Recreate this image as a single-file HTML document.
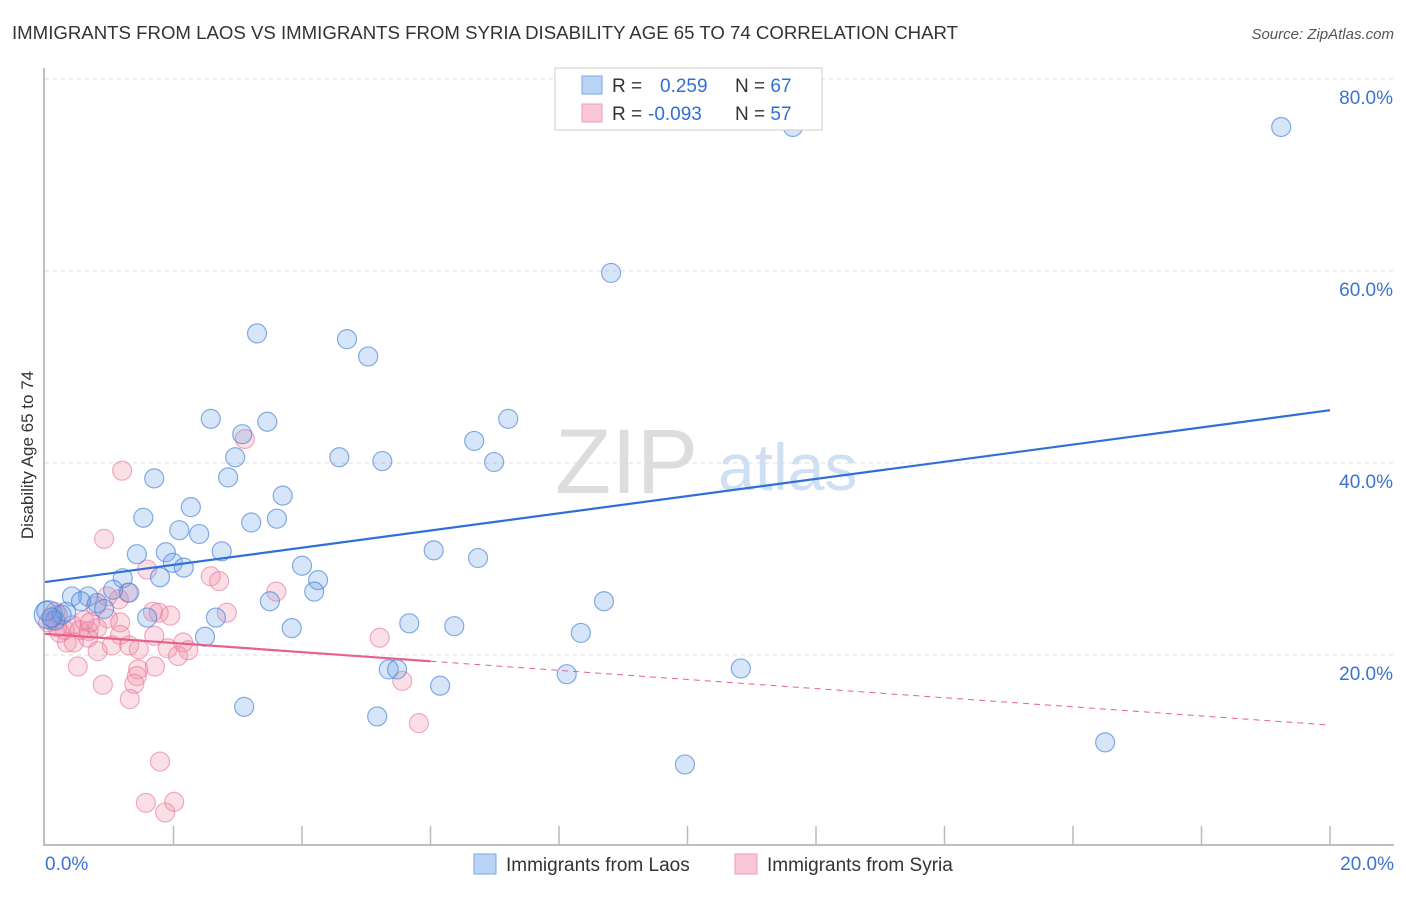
<!DOCTYPE html>
<html><head><meta charset="utf-8"><style>
body{margin:0;background:#fff;font-family:"Liberation Sans",sans-serif}
svg text{font-family:"Liberation Sans",sans-serif}
</style></head><body>
<svg id="c" width="1406" height="892">
<text x="12" y="39" font-size="18.6" fill="#333" textLength="946" lengthAdjust="spacingAndGlyphs">IMMIGRANTS FROM LAOS VS IMMIGRANTS FROM SYRIA DISABILITY AGE 65 TO 74 CORRELATION CHART</text>
<text x="1394" y="39" font-size="15" fill="#555" font-style="italic" text-anchor="end">Source: ZipAtlas.com</text>
<text transform="translate(33,455) rotate(-90)" font-size="17" fill="#333" text-anchor="middle">Disability Age 65 to 74</text>
<g><text x="555" y="493" font-size="92" fill="#ddd" font-family="Liberation Serif">ZIP</text><text x="718" y="490" font-size="66" fill="#cfe0f4">atlas</text></g>
<g id="grid"></g><g id="marks"></g>
<g>
<rect x="555" y="68" width="267" height="62" fill="#fff" stroke="#ccc"/>
<rect x="582" y="76" width="20" height="18" fill="#b9d3f5" stroke="#7aa6e6"/>
<rect x="582" y="104" width="20" height="18" fill="#f9c7d6" stroke="#f09ab5"/>
<text x="612" y="92" font-size="19" fill="#333">R = <tspan fill="#2f6fd6" x="660">0.259</tspan><tspan fill="#333" x="735">N = </tspan><tspan fill="#2f6fd6">67</tspan></text>
<text x="612" y="120" font-size="19" fill="#333">R = <tspan fill="#2f6fd6" x="648">-0.093</tspan><tspan fill="#333" x="735">N = </tspan><tspan fill="#2f6fd6">57</tspan></text>
</g>
<g>
<rect x="474" y="854" width="22" height="20" fill="#b9d3f5" stroke="#7aa6e6"/>
<text x="506" y="871" font-size="19" fill="#333">Immigrants from Laos</text>
<rect x="735" y="854" width="22" height="20" fill="#f9c7d6" stroke="#f09ab5"/>
<text x="767" y="871" font-size="19" fill="#333">Immigrants from Syria</text>
</g>
</svg>
<script>
const laosX=[11.64,19.24,8.81,3.30,4.70,5.03,2.58,3.46,7.21,6.68,3.07,2.96,4.58,5.25,6.99,2.85,1.70,3.70,2.27,1.53,3.21,3.61,2.09,2.40,2.75,1.43,6.05,1.88,6.74,1.99,2.16,4.00,1.79,1.21,4.25,4.19,1.31,1.06,0.67,0.42,0.81,0.56,0.92,3.50,8.70,2.66,1.59,5.67,6.37,3.84,8.34,2.49,10.83,5.35,5.48,6.15,8.12,3.10,5.17,16.50,9.96,0.05,0.16,0.26,0.02,0.33,0.10];
const laosY=[75.0,75.0,59.8,53.5,52.9,51.1,44.6,44.3,44.6,42.3,43.0,40.6,40.6,40.2,40.1,38.5,38.4,36.6,35.4,34.3,33.8,34.2,33.0,32.6,30.8,30.5,30.9,30.7,30.1,29.6,29.1,29.3,28.1,28.0,27.8,26.6,26.5,26.8,26.1,26.1,25.4,25.6,24.8,25.6,25.6,23.9,23.9,23.3,23.0,22.8,22.3,21.9,18.6,18.5,18.5,16.8,18.0,14.6,13.6,10.9,8.6,24.2,23.6,24.2,24.6,24.5,23.9];
const syriaX=[1.20,3.11,0.92,1.59,2.58,2.71,3.60,1.29,1.15,0.79,1.68,1.77,1.95,2.83,0.98,1.17,0.11,0.19,0.31,0.42,0.54,0.68,0.81,0.67,0.34,0.45,1.17,1.04,1.31,1.70,0.82,1.46,1.91,2.15,2.23,2.07,0.51,1.71,1.45,1.43,1.39,0.90,5.21,5.56,1.32,5.82,1.79,1.57,2.01,1.87,0.20,0.05,0.23,0.61,0.97,0.70,0.16];
const syriaY=[39.2,42.5,32.1,28.9,28.2,27.7,26.6,26.5,25.8,25.1,24.5,24.4,24.1,24.4,23.8,23.4,23.6,22.9,22.6,23.1,22.6,22.5,22.8,21.8,21.3,21.3,22.1,21.0,21.0,22.0,20.4,20.6,20.7,21.3,20.5,19.9,18.8,18.8,18.5,17.8,17.0,16.9,21.8,17.3,15.4,12.9,8.9,4.6,4.7,3.6,24.2,23.4,22.3,23.6,26.1,23.4,24.5];
const laosTrend=[27.6,45.5];
const syriaTrend=[22.2,12.7];
const syriaSolidEnd=6.0;
const yTicks=[20,40,60,80];
const xTicks=[0,2,4,6,8,10,12,14,16,18,20];
const NS='http://www.w3.org/2000/svg';
const sx=v=>45+v*64.25, sy=v=>847-v*9.6;
function mk(tag,attrs,parent){const e=document.createElementNS(NS,tag);for(const k in attrs)e.setAttribute(k,attrs[k]);parent.appendChild(e);return e;}
const grid=document.getElementById('grid'), marks=document.getElementById('marks'), svg=document.getElementById('c');
yTicks.forEach(t=>{
  const l=mk('line',{x1:45,x2:1394,y1:sy(t),y2:sy(t),stroke:'#ddd','stroke-dasharray':'4,4'},grid);
  
  
  const tx=mk('text',{x:1393,y:sy(t)+25,'font-size':19,fill:'#3b73d4','text-anchor':'end'},svg);
  tx.textContent=t.toFixed(1)+'%';
  
  
});
const ax=mk('path',{d:'M44,68 V845 H1394',fill:'none',stroke:'#aaa','stroke-width':1.5},grid);


xTicks.slice(1).forEach(t=>{
  const l=mk('line',{x1:sx(t),x2:sx(t),y1:826,y2:845,stroke:'#bbb','stroke-width':1.5},grid);
  
  
});
[[0,'0.0%',45,'start'],[20,'20.0%',1394,'end']].forEach(a=>{
  const t=mk('text',{x:a[2],y:870,'font-size':19,fill:'#3b73d4','text-anchor':a[3]},svg);
  t.textContent=a[1];
  
  
});
syriaX.forEach((x,i)=>{
  const c=mk('circle',{cx:sx(x),cy:sy(syriaY[i]),r:9.5,fill:'rgba(242,140,170,0.28)',stroke:'rgba(232,120,155,0.6)','stroke-width':1.2},marks);
  
  
});
laosX.forEach((x,i)=>{
  const c=mk('circle',{cx:sx(x),cy:sy(laosY[i]),r:i==61?14:9.5,fill:'rgba(110,160,230,0.28)',stroke:'rgba(70,130,215,0.65)','stroke-width':1.2},marks);
  
  
});
const bl=mk('line',{x1:sx(0),y1:sy(laosTrend[0]),x2:sx(20),y2:sy(laosTrend[1]),stroke:'#2f6fd6','stroke-width':2.2},marks);


const py=x=>syriaTrend[0]+(syriaTrend[1]-syriaTrend[0])*x/20;
const pl=mk('line',{x1:sx(0),y1:sy(py(0)),x2:sx(syriaSolidEnd),y2:sy(py(syriaSolidEnd)),stroke:'#e8608c','stroke-width':2.2},marks);


const pd=mk('line',{x1:sx(syriaSolidEnd),y1:sy(py(syriaSolidEnd)),x2:sx(20),y2:sy(py(20)),stroke:'#e8608c','stroke-width':1,'stroke-dasharray':'6,5'},marks);


</script>
</body></html>
